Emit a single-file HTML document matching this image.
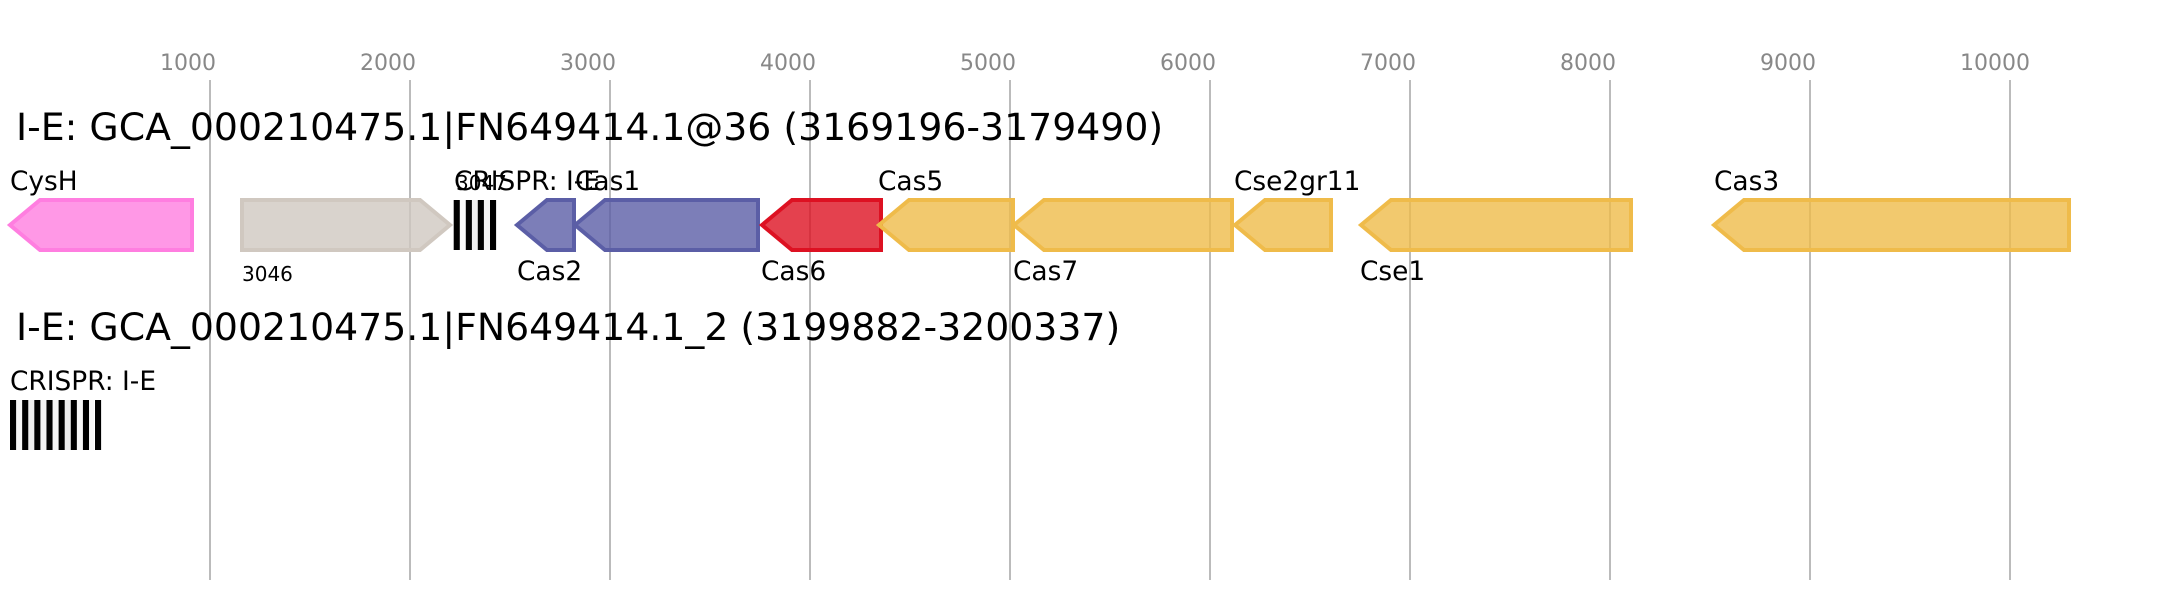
<!DOCTYPE html>
<html>
<head>
<meta charset="utf-8">
<style>
html,body{margin:0;padding:0;background:#fff;}
svg{display:block;}
text{font-family:"DejaVu Sans",sans-serif;}
.t{font-size:22px;fill:#888;}
.h{font-size:37.8px;fill:#000;}
.l{font-size:26.4px;fill:#000;}
.s{font-size:20px;fill:#000;}
.g{stroke-width:4;fill-opacity:.8;}
.grid line{stroke:#bbb;stroke-width:2;}
</style>
</head>
<body>
<svg width="2159" height="600" viewBox="0 0 2159 600" xmlns="http://www.w3.org/2000/svg">
<rect width="2159" height="600" fill="#fff"/>
<g class="grid">
<line x1="210" y1="80" x2="210" y2="580"/>
<line x1="410" y1="80" x2="410" y2="580"/>
<line x1="610" y1="80" x2="610" y2="580"/>
<line x1="810" y1="80" x2="810" y2="580"/>
<line x1="1010" y1="80" x2="1010" y2="580"/>
<line x1="1210" y1="80" x2="1210" y2="580"/>
<line x1="1410" y1="80" x2="1410" y2="580"/>
<line x1="1610" y1="80" x2="1610" y2="580"/>
<line x1="1810" y1="80" x2="1810" y2="580"/>
<line x1="2010" y1="80" x2="2010" y2="580"/>
</g>
<text class="t" x="160" y="70">1000</text>
<text class="t" x="360" y="70">2000</text>
<text class="t" x="560" y="70">3000</text>
<text class="t" x="760" y="70">4000</text>
<text class="t" x="960" y="70">5000</text>
<text class="t" x="1160" y="70">6000</text>
<text class="t" x="1360" y="70">7000</text>
<text class="t" x="1560" y="70">8000</text>
<text class="t" x="1760" y="70">9000</text>
<text class="t" x="1960" y="70">10000</text>
<text class="h" x="16" y="140">I-E: GCA_000210475.1|FN649414.1@36 (3169196-3179490)</text>
<text class="h" x="16" y="340">I-E: GCA_000210475.1|FN649414.1_2 (3199882-3200337)</text>

<polygon class="g" points="10,225 40,200 192,200 192,250 40,250" fill="#ff7ee0" stroke="#ff7ee0"/>
<polygon class="g" points="242,200 420,200 450,225 420,250 242,250" fill="#d0c8c0" stroke="#d0c8c0"/>
<polygon class="g" points="517,225 547,200 574,200 574,250 547,250" fill="#5b5ea6" stroke="#5b5ea6"/>
<polygon class="g" points="575,225 605,200 758,200 758,250 605,250" fill="#5b5ea6" stroke="#5b5ea6"/>
<polygon class="g" points="762,225 792,200 881,200 881,250 792,250" fill="#dd1122" stroke="#dd1122"/>
<polygon class="g" points="879,225 909,200 1013,200 1013,250 909,250" fill="#efbb4a" stroke="#efbb4a"/>
<polygon class="g" points="1014,225 1044,200 1232,200 1232,250 1044,250" fill="#efbb4a" stroke="#efbb4a"/>
<polygon class="g" points="1235,225 1265,200 1331,200 1331,250 1265,250" fill="#efbb4a" stroke="#efbb4a"/>
<polygon class="g" points="1361,225 1391,200 1631,200 1631,250 1391,250" fill="#efbb4a" stroke="#efbb4a"/>
<polygon class="g" points="1714,225 1744,200 2069,200 2069,250 1744,250" fill="#efbb4a" stroke="#efbb4a"/>

<rect x="460" y="200" width="6" height="50" fill="#f8f8f8"/>
<rect x="472" y="200" width="6" height="50" fill="#eee"/>
<rect x="484" y="200" width="6" height="50" fill="#f4f4f4"/>
<rect x="453.7" y="200" width="6.1" height="50" fill="#000"/>
<rect x="465.8" y="200" width="6.1" height="50" fill="#000"/>
<rect x="477.8" y="200" width="6.1" height="50" fill="#000"/>
<rect x="490" y="200" width="6.1" height="50" fill="#000"/>

<rect x="16" y="400" width="6" height="50" fill="#f6f6f6"/>
<rect x="28" y="400" width="6" height="50" fill="#eee"/>
<rect x="40" y="400" width="6" height="50" fill="#f2f2f2"/>
<rect x="52" y="400" width="6" height="50" fill="#f6f6f6"/>
<rect x="64" y="400" width="6" height="50" fill="#eee"/>
<rect x="76" y="400" width="6" height="50" fill="#f8f8f8"/>
<rect x="88" y="400" width="6" height="50" fill="#f6f6f6"/>
<rect x="10" y="400" width="6.1" height="50" fill="#000"/>
<rect x="22.15" y="400" width="6.1" height="50" fill="#000"/>
<rect x="34.3" y="400" width="6.1" height="50" fill="#000"/>
<rect x="46.45" y="400" width="6.1" height="50" fill="#000"/>
<rect x="58.6" y="400" width="6.1" height="50" fill="#000"/>
<rect x="70.75" y="400" width="6.1" height="50" fill="#000"/>
<rect x="82.9" y="400" width="6.1" height="50" fill="#000"/>
<rect x="95" y="400" width="6.1" height="50" fill="#000"/>

<text class="l" x="10" y="190">CysH</text>
<text class="s" x="242" y="281">3046</text>
<text class="l" x="454" y="190">CRISPR: I-E</text>
<text class="s" x="456" y="190">3047</text>
<text class="l" x="575" y="190">Cas1</text>
<text class="l" x="517" y="280">Cas2</text>
<text class="l" x="761" y="280">Cas6</text>
<text class="l" x="878" y="190">Cas5</text>
<text class="l" x="1013" y="280">Cas7</text>
<text class="l" x="1234" y="190">Cse2gr11</text>
<text class="l" x="1360" y="280">Cse1</text>
<text class="l" x="1714" y="190">Cas3</text>
<text class="l" x="10" y="390">CRISPR: I-E</text>
</svg>
</body>
</html>
